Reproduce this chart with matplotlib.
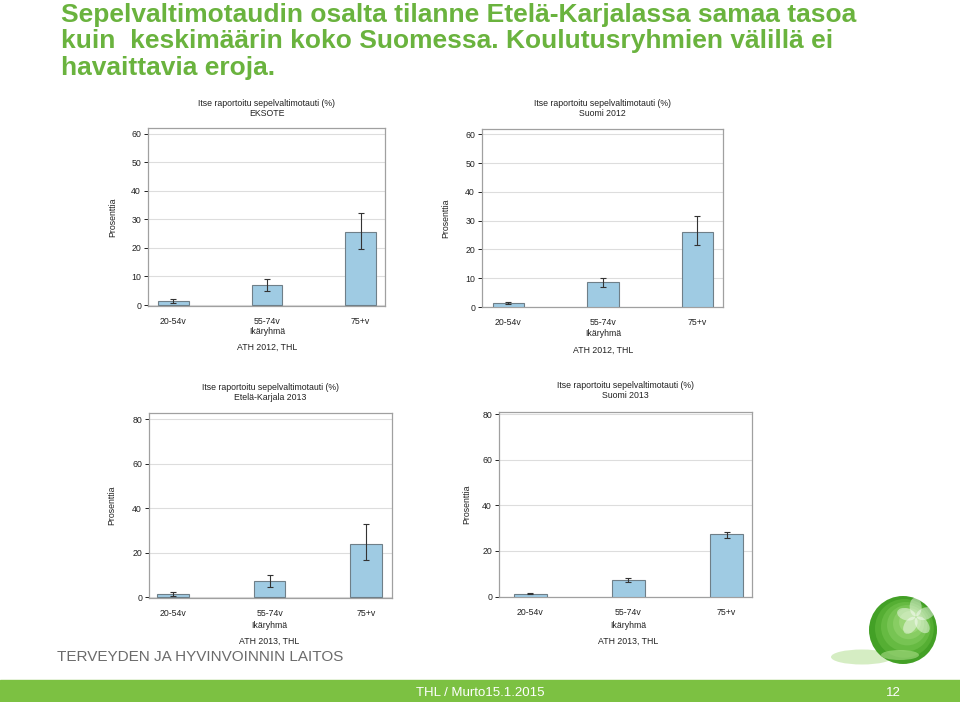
import numpy as np
import matplotlib
matplotlib.use("Agg")
import matplotlib.pyplot as plt
from matplotlib.patches import Rectangle, Circle, Ellipse

plt.rcParams["font.family"] = ["Liberation Sans", "DejaVu Sans"]

W, H = 960, 702

# data
age_groups = ["20-54v", "55-74v", "75+v"]

eksote_2012 = [1.3, 6.9, 25.7]
eksote_2012_low = [0.6, 4.9, 19.6]
eksote_2012_high = [2.0, 9.0, 32.4]

suomi_2012 = [1.3, 8.6, 26.0]
suomi_2012_low = [1.0, 6.9, 21.4]
suomi_2012_high = [1.6, 10.2, 31.5]

etela_karjala_2013 = [1.35, 7.2, 24.1]
etela_karjala_2013_low = [0.5, 4.6, 16.9]
etela_karjala_2013_high = [2.2, 10.0, 32.7]

suomi_2013 = [1.3, 7.2, 27.3]
suomi_2013_low = [1.1, 6.6, 25.9]
suomi_2013_high = [1.5, 8.0, 28.5]

panel_titles = ["EKSOTE", "Suomi 2012", "Etelä-Karjala 2013", "Suomi 2013"]
sources = ["ATH 2012, THL", "ATH 2012, THL", "ATH 2013, THL", "ATH 2013, THL"]

GREEN = "#6ab33e"
BAR = "#9fcbe3"


def fx(x):
    return x / W


def fy(y):
    return 1 - y / H


def ftext(x, y, s, **kw):
    fig.text(fx(x), fy(y), s, **kw)


fig = plt.figure(figsize=(9.6, 7.02), dpi=100)

# slide heading
heading = ["Sepelvaltimotaudin osalta tilanne Etelä-Karjalassa samaa tasoa",
           "kuin  keskimäärin koko Suomessa. Koulutusryhmien välillä ei",
           "havaittavia eroja."]
for i, line in enumerate(heading):
    ftext(61, 21.7 + i * 26.7, line, color=GREEN, fontsize=19,
          fontweight="bold", va="baseline", ha="left")


def x_center(ax, xv):
    # pixel x position of a data x value
    pos = ax.get_position()
    x0, x1 = ax.get_xlim()
    return (pos.x0 + (xv - x0) / (x1 - x0) * pos.width) * W


def panel(box, ylim, xlim, yticks, vals, low, high, title, source, title_y,
          ylab_x, lab_y):
    left, right, top, bottom = box
    ax = fig.add_axes([fx(left), fy(bottom), fx(right) - fx(left),
                       fy(top) - fy(bottom)])
    x = np.arange(len(age_groups))
    vals = np.array(vals)
    err = [vals - np.array(low), np.array(high) - vals]
    ax.bar(x, vals, width=0.33, color=BAR, edgecolor="#6f7f88", linewidth=0.8,
           zorder=3)
    ax.errorbar(x, vals, yerr=err, fmt="none", ecolor="#333333",
                elinewidth=0.8, capsize=2.5, capthick=0.8, zorder=4)
    ax.set_xlim(*xlim)
    ax.set_ylim(*ylim)
    ax.set_yticks(yticks)
    ax.set_xticks(x)
    ax.set_xticklabels(age_groups)
    ax.yaxis.grid(True, color="#dddddd", linewidth=0.8, zorder=0)
    ax.tick_params(axis="x", length=0, pad=8, labelsize=6.3, colors="#222222")
    ax.tick_params(axis="y", length=3, pad=2, labelsize=6.3, colors="#222222",
                   width=0.7)
    for s in ax.spines.values():
        s.set_color("#a0a0a0")
        s.set_linewidth(0.9)
    cx = (left + right) / 2
    ftext(cx, title_y, "Itse raportoitu sepelvaltimotauti (%)", fontsize=6.3,
          ha="center", va="center", color="#222222")
    ftext(cx, title_y + 10.5, title, fontsize=6.3, ha="center", va="center",
          color="#222222")
    ftext(ylab_x, (top + bottom) / 2, "Prosenttia", fontsize=6.3,
          rotation=90, ha="center", va="center", color="#222222")
    ftext(x_center(ax, 1), lab_y, "Ikäryhmä", fontsize=6.3, ha="center",
          va="center", color="#222222")
    ftext(x_center(ax, 1), lab_y + 16, source, fontsize=6.3, ha="center",
          va="center", color="#222222")
    return ax


panel((148, 385, 128, 306), (-0.35, 62.1), (-0.27, 2.26), [0, 10, 20, 30, 40, 50, 60],
      eksote_2012, eksote_2012_low, eksote_2012_high, panel_titles[0], sources[0],
      103, 113, 331)
panel((482, 723, 129, 307.3), (-0.1, 61.9), (-0.28, 2.27), [0, 10, 20, 30, 40, 50, 60],
      suomi_2012, suomi_2012_low, suomi_2012_high, panel_titles[1], sources[1],
      103.5, 446, 334)
panel((149, 392, 413, 598), (-0.3, 82.7), (-0.25, 2.27), [0, 20, 40, 60, 80],
      etela_karjala_2013, etela_karjala_2013_low, etela_karjala_2013_high,
      panel_titles[2], sources[2], 387.5, 112, 625)
panel((499, 752, 412, 597), (-0.2, 81.0), (-0.32, 2.26), [0, 20, 40, 60, 80],
      suomi_2013, suomi_2013_low, suomi_2013_high, panel_titles[3], sources[3],
      385, 467, 625)

# footer
fig.patches.append(Rectangle((0, 0), 1, fy(680), transform=fig.transFigure,
                             color="#7cc142", zorder=0))
ftext(480, 693, "THL / Murto15.1.2015", color="white", fontsize=9.5,
      ha="center", va="center")
ftext(893, 693, "12", color="white", fontsize=9.5, ha="center", va="center")
ftext(57, 657, "TERVEYDEN JA HYVINVOINNIN LAITOS", color="#6b6b6b",
      fontsize=11, ha="left", va="center")

# logo sphere
lax = fig.add_axes([fx(830), fy(675), fx(130), fy(585) - fy(675)])
lax.set_xlim(0, 130)
lax.set_ylim(0, 90)
lax.set_aspect("equal")
lax.axis("off")
lax.add_patch(Ellipse((32, 18), 62, 15, color="#c4e6aa", alpha=0.7, lw=0))
greens = ["#43a026", "#55ae33", "#66ba42", "#77c453", "#88cd63", "#9ad676"]
for k, c in enumerate(greens):
    r = 34 - k * 4.6
    lax.add_patch(Circle((73 + k * 1.4, 45 + k * 1.6), r, color=c, lw=0))
# reflection band at the bottom
lax.add_patch(Ellipse((70, 20), 38, 10, color="#a9dc86", alpha=0.6, lw=0))
for ang in np.arange(0, 360, 72) + 20:
    a = np.deg2rad(ang)
    lax.add_patch(Ellipse((86 + 10 * np.cos(a), 58 + 10 * np.sin(a)), 19, 12,
                          angle=ang, color="white", alpha=0.45, lw=0))

fig.savefig("out.png", dpi=100)
